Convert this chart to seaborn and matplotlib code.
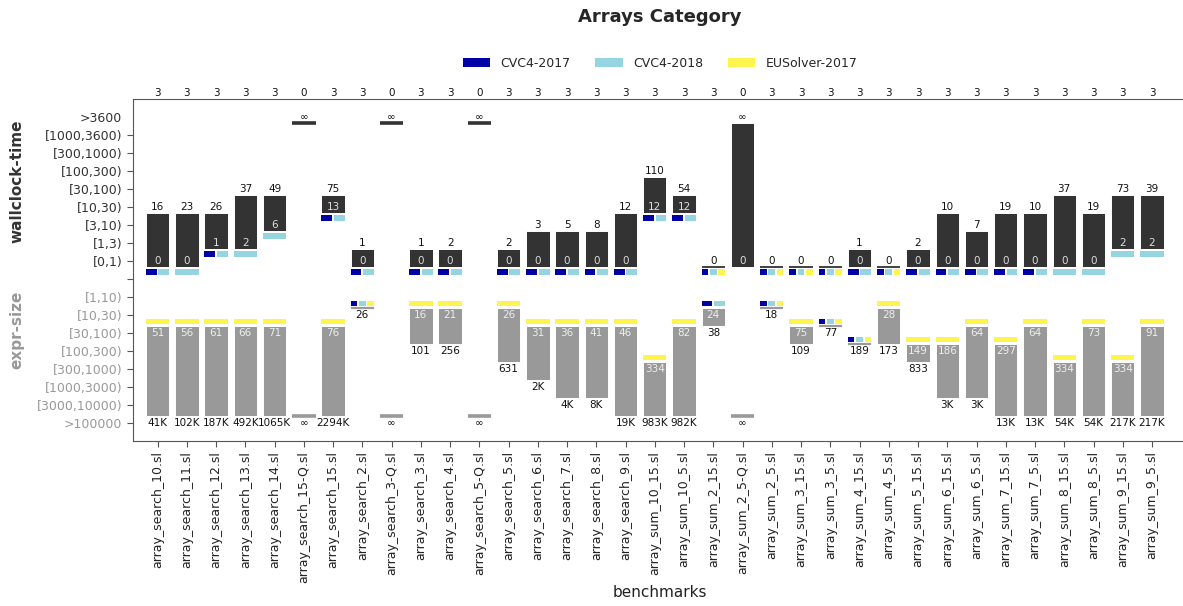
import numpy as np
import pandas as pd
import matplotlib
matplotlib.use("Agg")
import matplotlib.pyplot as plt
import seaborn as sns
from matplotlib.patches import Patch

inf = np.inf

benchmarks = [
    "array_search_10.sl", "array_search_11.sl", "array_search_12.sl", "array_search_13.sl",
    "array_search_14.sl", "array_search_15-Q.sl", "array_search_15.sl", "array_search_2.sl",
    "array_search_3-Q.sl", "array_search_3.sl", "array_search_4.sl", "array_search_5-Q.sl",
    "array_search_5.sl", "array_search_6.sl", "array_search_7.sl", "array_search_8.sl",
    "array_search_9.sl", "array_sum_10_15.sl", "array_sum_10_5.sl", "array_sum_2_15.sl",
    "array_sum_2_5-Q.sl", "array_sum_2_5.sl", "array_sum_3_15.sl", "array_sum_3_5.sl",
    "array_sum_4_15.sl", "array_sum_4_5.sl", "array_sum_5_15.sl", "array_sum_6_15.sl",
    "array_sum_6_5.sl", "array_sum_7_15.sl", "array_sum_7_5.sl", "array_sum_8_15.sl",
    "array_sum_8_5.sl", "array_sum_9_15.sl", "array_sum_9_5.sl",
]
solved = [3, 3, 3, 3, 3, 0, 3, 3, 0, 3, 3, 0, 3, 3, 3, 3, 3, 3, 3, 3, 0, 3, 3, 3, 3,
          3, 3, 3, 3, 3, 3, 3, 3, 3, 3]

# wallclock time (seconds): fastest and slowest solver
time_min = [0, 0, 1, 2, 6, inf, 13, 0, inf, 0, 0, inf, 0, 0, 0, 0, 0, 12, 12, 0, 0, 0,
            0, 0, 0, 0, 0, 0, 0, 0, 0, 0, 0, 2, 2]
time_max = [16, 23, 26, 37, 49, inf, 75, 1, inf, 1, 2, inf, 2, 3, 5, 8, 12, 110, 54, 0,
            inf, 0, 0, 0, 1, 0, 2, 10, 7, 19, 10, 37, 19, 73, 39]
# expression size: smallest and largest solution
size_min = [51, 56, 61, 66, 71, inf, 76, 26, inf, 16, 21, inf, 26, 31, 36, 41, 46, 334,
            82, 24, inf, 18, 75, 77, 189, 28, 149, 186, 64, 297, 64, 334, 73, 334, 91]
size_max = [41000, 102000, 187000, 492000, 1065000, inf, 2294000, 26, inf, 101, 256, inf,
            631, 2000, 4000, 8000, 19000, 983000, 982000, 38, inf, 18, 109, 77, 189, 173,
            833, 3000, 3000, 13000, 13000, 54000, 54000, 217000, 217000]
# solvers reaching the best value (0 = CVC4-2017, 1 = CVC4-2018, 2 = EUSolver-2017)
time_best = ["01", "1", "01", "1", "1", "", "01", "01", "", "01", "01", "", "01", "01",
             "01", "01", "01", "01", "01", "012", "", "012", "012", "012", "01", "012",
             "01", "01", "01", "01", "01", "1", "1", "1", "1"]
size_best = ["2", "2", "2", "2", "2", "", "2", "012", "", "2", "2", "", "2", "2", "2", "2",
             "2", "2", "2", "01", "", "012", "2", "012", "012", "2", "2", "2", "2", "2",
             "2", "2", "2", "2", "2"]

solvers = ["CVC4-2017", "CVC4-2018", "EUSolver-2017"]
solver_colors = ["#0000a6", "#94d5e1", "#fdf54e"]

time_edges = [0, 1, 3, 10, 30, 100, 300, 1000, 3600]
time_labels = ["[0,1)", "[1,3)", "[3,10)", "[10,30)", "[30,100)", "[100,300)",
               "[300,1000)", "[1000,3600)", ">3600"]
size_edges = [1, 10, 30, 100, 300, 1000, 3000, 10000]
size_labels = ["[1,10)", "[10,30)", "[30,100)", "[100,300)", "[300,1000)",
               "[1000,3000)", "[3000,10000)", ">100000"]


def fmt_time(v):
    return "\u221e" if np.isinf(v) else str(int(v))


def fmt_size(v):
    if np.isinf(v):
        return "\u221e"
    if v >= 1000:
        return f"{round(v / 1000)}K"
    return str(int(v))


df = pd.DataFrame({"bench": benchmarks})
df["t_lo"] = np.digitize(time_min, time_edges)
df["t_hi"] = np.digitize(time_max, time_edges)
df["s_lo"] = np.digitize(size_min, size_edges)
df["s_hi"] = np.digitize(size_max, size_edges)
df["t_len"] = df.t_hi - df.t_lo
df["s_len"] = df.s_hi - df.s_lo
df["t_inf"] = np.isinf(time_max)
df["s_inf"] = np.isinf(size_max)

W = 0.8
off = 0.37
gap = 0.06
DARK = "#333333"
GREY = "#999999"

sns.set_style("ticks")
plt.rcParams["font.family"] = ["DejaVu Sans"]
fig = plt.figure(figsize=(11.83, 6.06), dpi=100)
ax = fig.add_axes([0.1122, 0.2728, 0.8878, 0.5643])

# wallclock-time bars (grow upwards)
bt = df[df.t_len > 0]
sns.barplot(data=bt, x="bench", y="t_len", order=benchmarks, bottom=(bt.t_lo - off).to_numpy(),
            color=DARK, saturation=1, width=W, errorbar=None, edgecolor="white",
            linewidth=0.7, ax=ax)
# expr-size bars (grow downwards)
bs = df[df.s_len > 0]
sns.barplot(data=bs, x="bench", y="s_len", order=benchmarks, bottom=(-bs.s_hi + off).to_numpy(),
            color=GREY, saturation=1, width=W, errorbar=None, edgecolor="white",
            linewidth=0.7, ax=ax)

# equal best/worst: flat marks (thicker for timeouts)
et = df[df.t_len == 0]
for is_inf, sub in et.groupby("t_inf"):
    ax.hlines(sub.t_lo - off, sub.index - W / 2, sub.index + W / 2, color=DARK,
              lw=2.6 if is_inf else 1.3)
es = df[df.s_len == 0]
for is_inf, sub in es.groupby("s_inf"):
    ax.hlines(-sub.s_lo + off, sub.index - W / 2, sub.index + W / 2, color=GREY,
              lw=2.6 if is_inf else 1.6)

# value labels
for i, r in df.iterrows():
    if r.t_len > 0:
        ax.text(i, r.t_hi, fmt_time(time_max[i]), ha="center", va="center", fontsize=7.5, color="#111111")
        ax.text(i, r.t_lo, fmt_time(time_min[i]), ha="center", va="center", fontsize=7.5, color="#dddddd")
    else:
        ax.text(i, r.t_hi, fmt_time(time_max[i]), ha="center", va="center", fontsize=7.5, color="#111111")
    if r.s_len > 0:
        ax.text(i, -r.s_lo, fmt_size(size_min[i]), ha="center", va="center", fontsize=7.5, color="#eeeeee")
        ax.text(i, -r.s_hi, fmt_size(size_max[i]), ha="center", va="center", fontsize=7.5, color="#111111")
    else:
        ax.text(i, -r.s_hi, fmt_size(size_max[i]), ha="center", va="center", fontsize=7.5, color="#111111")

# which solvers got the best value
for i, r in df.iterrows():
    for best, base in ((time_best[i], r.t_lo - 0.78), (size_best[i], -r.s_lo + 0.46)):
        n_b = len(best)
        for k, ch in enumerate(best):
            w = (W - (n_b - 1) * gap) / n_b
            ax.bar(i - W / 2 + k * (w + gap), 0.32, width=w, bottom=base,
                   align="edge", color=solver_colors[int(ch)], linewidth=0)

# solved counts above the plot
for i, c in enumerate(solved):
    ax.text(i, 1.003, str(c), transform=ax.get_xaxis_transform(), ha="center", va="bottom",
            fontsize=7.5, color="#111111")

ax.set_xlim(-0.85, 35.06)
ax.set_ylim(-9, 10)
ax.set_xlabel("")
ax.set_ylabel("")
ax.tick_params(axis="x", labelrotation=90, labelsize=9, colors="#555555", labelcolor="#222222", length=4)
yt = list(range(-8, 10))
ax.set_yticks(yt, labels=size_labels[::-1] + [""] + time_labels)
ax.tick_params(axis="y", labelsize=9, colors="#555555", length=4)
for t, lab in zip(yt, ax.get_yticklabels()):
    lab.set_color("#333333" if t > 0 else "#999999")
ax.yaxis.get_major_ticks()[-1].tick1line.set_visible(False)

ax.spines["right"].set_visible(False)
for s in ("left", "top", "bottom"):
    ax.spines[s].set_color("#555555")

handles = [Patch(facecolor=c, edgecolor="none", label=s) for s, c in zip(solvers, solver_colors)]
ax.legend(handles=handles, loc="center", bbox_to_anchor=(0.502, 1.104), ncol=3, frameon=False,
          fontsize=9, handlelength=2.2, handleheight=0.8)

fig.text(0.5575, 0.972, "Arrays Category", ha="center", va="center", fontsize=13, weight="bold")
fig.text(0.5575, 0.0215, "benchmarks", ha="center", va="center", fontsize=11, color="#222222")
fig.text(0.014, 0.701, "wallclock-time", rotation=90, ha="center", va="center", fontsize=11,
         weight="bold", color="#333333")
fig.text(0.014, 0.455, "expr-size", rotation=90, ha="center", va="center", fontsize=11,
         weight="bold", color="#999999")

fig.savefig("out.png", dpi=100)
